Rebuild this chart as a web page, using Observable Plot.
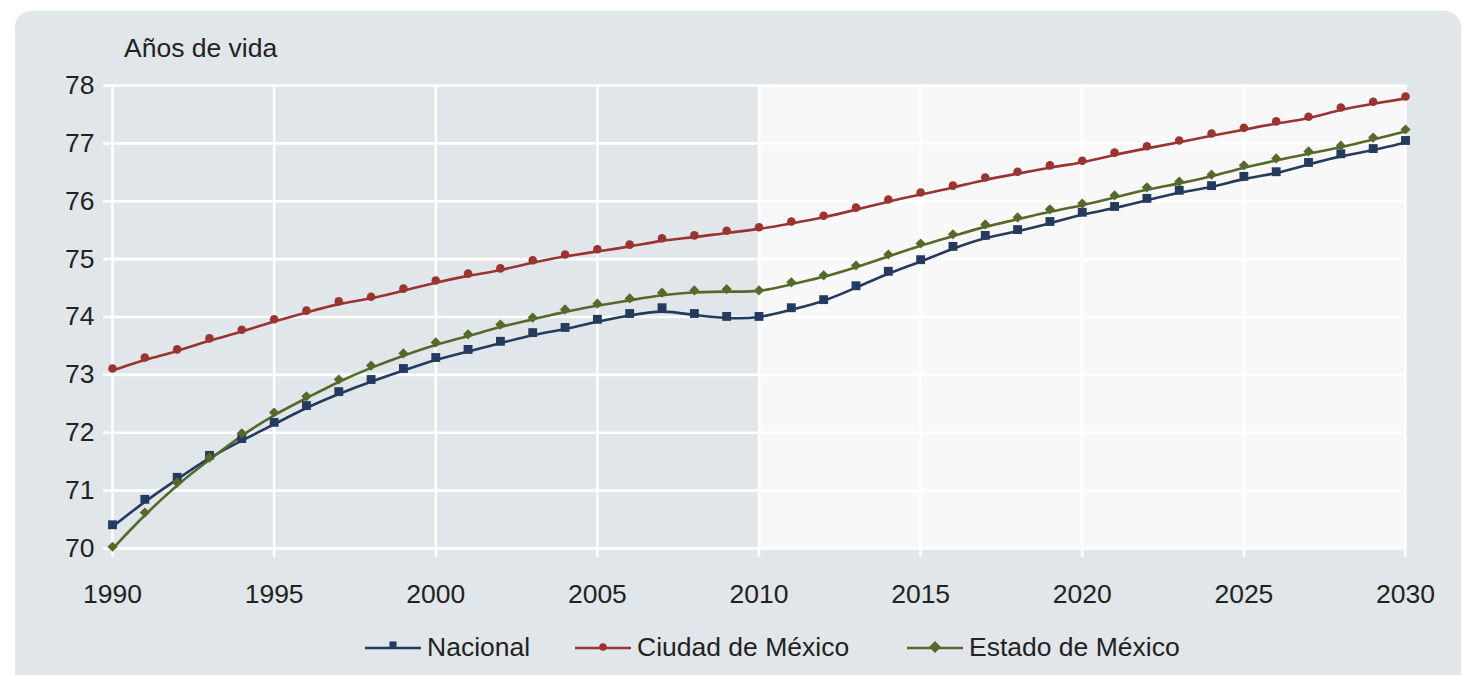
<!DOCTYPE html>
<html>
<head>
<meta charset="utf-8">
<script src="https://cdn.jsdelivr.net/npm/d3@7"></script>
<script src="https://cdn.jsdelivr.net/npm/@observablehq/plot@0.6"></script>
<style>
  html, body { margin: 0; padding: 0; background: #ffffff; width: 1471px; height: 675px; overflow: hidden; }
  body { font-family: "Liberation Sans", Arial, sans-serif; color: #222; }
  #panel { position: absolute; left: 15px; top: 11px; width: 1446px; height: 700px; background: #e1e6ea; border-radius: 16px; }
  #chart { position: absolute; left: 0; top: 0; }
  #title { position: absolute; left: 124px; top: 35px; font-size: 26.5px; line-height: 1; }
  .leg { position: absolute; top: 634px; display: flex; align-items: center; font-size: 26.5px; line-height: 1; }
  .leg svg { margin-right: 6px; }
</style>
</head>
<body>
<div id="panel"></div>
<div id="chart"></div>
<div id="title">Años de vida</div>
<div id="legend"></div>
<script>
const years = [1990,1991,1992,1993,1994,1995,1996,1997,1998,1999,2000,2001,2002,2003,2004,2005,2006,2007,2008,2009,2010,2011,2012,2013,2014,2015,2016,2017,2018,2019,2020,2021,2022,2023,2024,2025,2026,2027,2028,2029,2030];
const nacional = [70.41,70.85,71.23,71.61,71.90,72.18,72.47,72.71,72.92,73.11,73.30,73.44,73.58,73.73,73.82,73.96,74.06,74.16,74.06,74.01,74.01,74.16,74.30,74.54,74.79,74.99,75.22,75.41,75.51,75.65,75.81,75.91,76.05,76.19,76.27,76.43,76.51,76.67,76.82,76.91,77.05];
const ciudadMexico = [73.11,73.30,73.44,73.63,73.78,73.96,74.11,74.27,74.35,74.49,74.63,74.75,74.84,74.98,75.08,75.17,75.25,75.36,75.41,75.49,75.55,75.65,75.75,75.89,76.03,76.15,76.27,76.41,76.51,76.62,76.70,76.84,76.95,77.05,77.17,77.27,77.38,77.46,77.62,77.72,77.81];
const estadoMexico = [70.03,70.62,71.14,71.57,71.99,72.35,72.63,72.92,73.16,73.37,73.56,73.70,73.87,73.99,74.13,74.23,74.32,74.42,74.46,74.48,74.46,74.60,74.72,74.89,75.08,75.27,75.43,75.60,75.72,75.86,75.96,76.10,76.24,76.34,76.46,76.62,76.74,76.86,76.96,77.10,77.24];
const seriesNames = ["Nacional", "Ciudad de México", "Estado de México"];
const xTicks = [1990,1995,2000,2005,2010,2015,2020,2025,2030];
const yTicks = [70,71,72,73,74,75,76,77,78];
const projectionStart = [2010];
const projectionEnd = [2030];

const colors = {"Nacional": "#243a5e", "Ciudad de México": "#9a3431", "Estado de México": "#55692a"};
const symbols = {"Nacional": "square", "Ciudad de México": "circle", "Estado de México": "diamond2"};
const radii = {"Nacional": 5, "Ciudad de México": 4.3, "Estado de México": 4.6};

const seriesValues = [nacional, ciudadMexico, estadoMexico];
const data = seriesNames.flatMap((name, s) => years.map((yr, i) => ({year: yr, value: seriesValues[s][i], serie: name})));
const shade = projectionStart.map((s, i) => ({x1: s, x2: projectionEnd[i]}));

const lineMarks = seriesNames.map(name =>
  Plot.line(data.filter(d => d.serie === name), {x: "year", y: "value", stroke: colors[name], strokeWidth: 2.6, curve: "basis", dy: 2})
);
const dotMarks = seriesNames.map(name =>
  Plot.dot(data.filter(d => d.serie === name), {x: "year", y: "value", fill: colors[name], stroke: "none", symbol: symbols[name], r: radii[name]})
);

const chart = Plot.plot({
  width: 1471,
  height: 600,
  marginLeft: 112,
  marginRight: 66,
  marginTop: 85,
  marginBottom: 52,
  style: {background: "transparent", fontFamily: "'Liberation Sans', Arial, sans-serif", fontSize: "26.5px", color: "#222", overflow: "visible"},
  x: {domain: [1990, 2030], label: null},
  y: {domain: [70, 78], label: null},
  marks: [
    Plot.rect(shade, {x1: "x1", x2: "x2", fill: "#f8f8f8"}),
    Plot.gridX(xTicks, {stroke: "white", strokeOpacity: 1, strokeWidth: 2.6}),
    Plot.gridY(yTicks, {stroke: "white", strokeOpacity: 1, strokeWidth: 2.6}),
    Plot.axisX(xTicks, {tickSize: 9, tickPadding: 27, stroke: "white", strokeWidth: 2.6, tickFormat: d => String(d), fontSize: 26.5, fill: "#222", label: null}),
    Plot.axisY(yTicks, {tickSize: 9, tickPadding: 9, stroke: "white", strokeWidth: 2.6, tickFormat: d => String(d), fontSize: 26.5, fill: "#222", label: null}),
    ...lineMarks,
    ...dotMarks
  ]
});
document.getElementById("chart").appendChild(chart);

// legend
const legendLeft = {"Nacional": 365, "Ciudad de México": 575, "Estado de México": 907};
const legend = document.getElementById("legend");
for (const name of seriesNames) {
  const item = document.createElement("div");
  item.className = "leg";
  item.style.left = legendLeft[name] + "px";
  const sym = d3.create("svg").attr("width", 56).attr("height", 24);
  sym.append("line").attr("x1", 0).attr("x2", 56).attr("y1", 13).attr("y2", 13).attr("stroke", colors[name]).attr("stroke-width", 2.6);
  const symType = name === "Nacional" ? d3.symbolSquare : name === "Ciudad de México" ? d3.symbolCircle : d3.symbolDiamond2;
  const size = name === "Nacional" ? 50 : name === "Ciudad de México" ? 45 : 90;
  sym.append("path").attr("d", d3.symbol(symType, size)()).attr("transform", name === "Nacional" ? "translate(28,10)" : "translate(28,12)").attr("fill", colors[name]);
  item.appendChild(sym.node());
  const t = document.createElement("span");
  t.textContent = name;
  item.appendChild(t);
  legend.appendChild(item);
}
</script>
</body>
</html>
